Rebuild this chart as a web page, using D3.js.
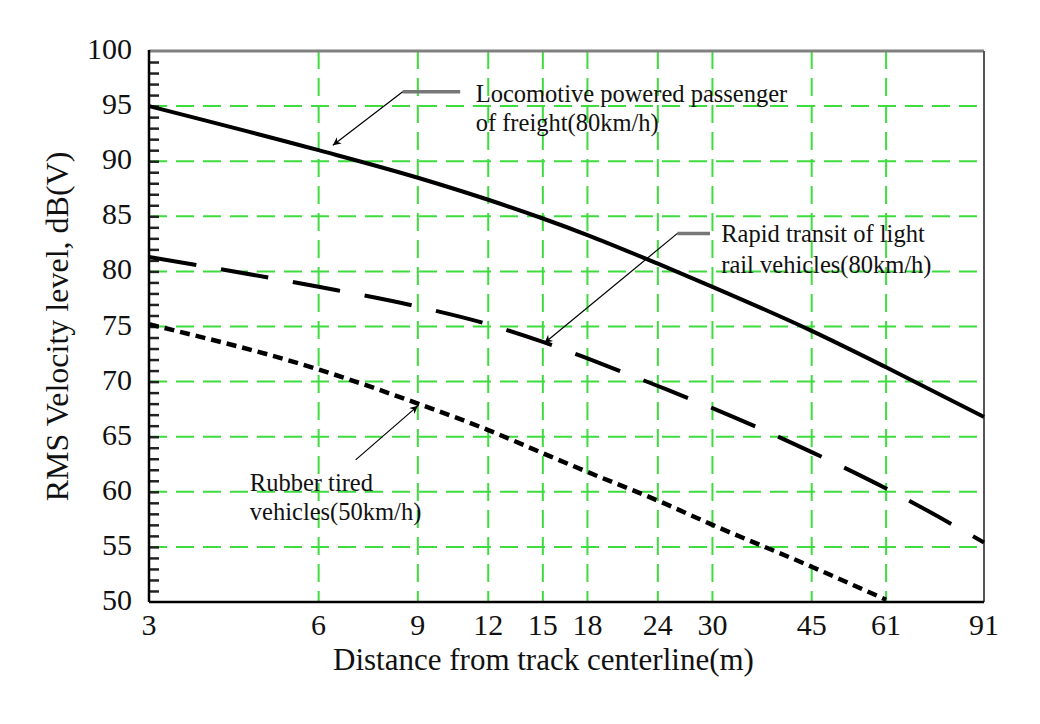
<!DOCTYPE html>
<html>
<head>
<meta charset="utf-8">
<script src="https://cdn.jsdelivr.net/npm/d3@7"></script>
<style>
  body { margin: 0; background: #fff; }
  text { font-family: "Liberation Serif", "Times New Roman", serif; fill: #111; }
</style>
</head>
<body>
<div id="chart"></div>
<script>
// distances (m)
var distance = [3, 6, 9, 12, 15, 18, 24, 30, 45, 61, 91];
var xTickLabels = ["3", "6", "9", "12", "15", "18", "24", "30", "45", "61", "91"];
var yTicks = [50, 55, 60, 65, 70, 75, 80, 85, 90, 95, 100];

// RMS velocity level, dB(V)
var locomotive = [95, 91, 88.5, 86.5, 84.8, 83.3, 80.7, 78.6, 74.6, 71.3, 66.8];
var rapidTransit = [81.3, 78.6, 76.8, 75.2, 73.6, 72.1, 69.6, 67.6, 63.6, 60.3, 55.4];
var rubberTired = [75.2, 71.1, 68.0, 65.6, 63.5, 61.8, 59.2, 57.0, 53.2, 50.2];

var margin = {top: 51, right: 56, bottom: 122, left: 149},
    width = 1040 - margin.left - margin.right,
    height = 724 - margin.top - margin.bottom;

var svg = d3.select("#chart")
  .append("svg")
    .attr("width", 1040)
    .attr("height", 724)
  .append("g")
    .attr("transform", "translate(" + margin.left + "," + margin.top + ")");

var x = d3.scaleLog().domain([3, 91]).range([0, width]);
var y = d3.scaleLinear().domain([50, 100]).range([height, 0]);

var green = "#3fdc3f";

// horizontal grid
svg.append("g")
  .selectAll("line")
  .data(yTicks.filter(function(d) { return d > 50 && d < 100; }))
  .enter().append("line")
    .attr("x1", 0).attr("x2", width)
    .attr("y1", function(d) { return y(d); })
    .attr("y2", function(d) { return y(d); })
    .attr("stroke", green).attr("stroke-width", 2)
    .attr("stroke-dasharray", "18,9");

// vertical grid
svg.append("g")
  .selectAll("line")
  .data(distance.filter(function(d) { return d > 3 && d < 91; }))
  .enter().append("line")
    .attr("x1", function(d) { return x(d); })
    .attr("x2", function(d) { return x(d); })
    .attr("y1", 0).attr("y2", height)
    .attr("stroke", green).attr("stroke-width", 2)
    .attr("stroke-dasharray", "18,9");

// frame: top grey, right dark grey
svg.append("line").attr("x1", 0).attr("x2", width).attr("y1", 0).attr("y2", 0)
  .attr("stroke", "#808080").attr("stroke-width", 3);
svg.append("line").attr("x1", width).attr("x2", width).attr("y1", 0).attr("y2", height)
  .attr("stroke", "#555").attr("stroke-width", 2);

// y axis with inner minor ticks every 1 dB
var yAxis = svg.append("g")
  .call(d3.axisLeft(y).tickValues(d3.range(51, 100)).tickSize(-10).tickFormat(""));
yAxis.select(".domain").remove();
yAxis.selectAll(".tick line").attr("stroke", "#222").attr("stroke-width", 2.5);

svg.append("g").selectAll("text")
  .data(yTicks)
  .enter().append("text")
    .attr("x", -17)
    .attr("y", function(d) { return y(d) + 8; })
    .attr("text-anchor", "end")
    .style("font-size", "30px")
    .text(function(d) { return d; });

svg.append("g").selectAll("text")
  .data(distance)
  .enter().append("text")
    .attr("x", function(d) { return x(d); })
    .attr("y", height + 33)
    .attr("text-anchor", "middle")
    .style("font-size", "30px")
    .text(function(d, i) { return xTickLabels[i]; });

svg.append("line").attr("x1", 0).attr("x2", 0).attr("y1", -1).attr("y2", height)
  .attr("stroke", "#000").attr("stroke-width", 2.5);
svg.append("line").attr("x1", 0).attr("x2", width).attr("y1", height).attr("y2", height)
  .attr("stroke", "#000").attr("stroke-width", 2.5);

// axis titles
svg.append("text")
  .attr("x", x(Math.sqrt(3 * 91)) - 23)
  .attr("y", height + 68)
  .attr("text-anchor", "middle")
  .style("font-size", "31px")
  .text("Distance from track centerline(m)");

svg.append("text")
  .attr("transform", "translate(-81," + (height / 2) + ") rotate(-90)")
  .attr("text-anchor", "middle")
  .style("font-size", "32px")
  .text("RMS Velocity level, dB(V)");

// curves
var line = d3.line()
  .x(function(d) { return x(d[0]); })
  .y(function(d) { return y(d[1]); })
  .curve(d3.curveMonotoneX);

function pairs(vals) {
  return vals.map(function(v, i) { return [distance[i], v]; });
}

svg.append("path").datum(pairs(locomotive))
  .attr("fill", "none").attr("stroke", "#000").attr("stroke-width", 4)
  .attr("d", line);
svg.append("path").datum(pairs(rapidTransit))
  .attr("fill", "none").attr("stroke", "#000").attr("stroke-width", 4)
  .attr("stroke-dasharray", "48,25")
  .attr("d", line);
svg.append("path").datum(pairs(rubberTired))
  .attr("fill", "none").attr("stroke", "#000").attr("stroke-width", 4.5)
  .attr("stroke-dasharray", "10,6")
  .attr("d", line);

// annotations
svg.append("defs").append("marker")
  .attr("id", "arrow")
  .attr("viewBox", "0 0 10 10")
  .attr("refX", 10).attr("refY", 5)
  .attr("markerWidth", 10).attr("markerHeight", 8)
  .attr("markerUnits", "userSpaceOnUse")
  .attr("orient", "auto")
  .append("path").attr("d", "M0,0L10,5L0,10L3,5Z").attr("fill", "#000");

var notes = [
  {stub: [8.46, 10.7], elbow: [8.46, 96.3], tip: [6.36, 91.45], tx: 11.4,
   lines: [[95.4, "Locomotive powered passenger"], [92.7, "of freight(80km/h)"]]},
  {stub: [26.0, 29.7], elbow: [26.0, 83.45], tip: [15.1, 73.5], tx: 31.1,
   lines: [[82.7, "Rapid transit of light"], [79.9, "rail vehicles(80km/h)"]]},
  {stub: null, elbow: [6.98, 62.9], tip: [9.0, 67.8], tx: 4.53,
   lines: [[60.1, "Rubber tired"], [57.4, "vehicles(50km/h)"]]}
];

notes.forEach(function(n) {
  if (n.stub) {
    svg.append("line")
      .attr("x1", x(n.stub[0])).attr("x2", x(n.stub[1]))
      .attr("y1", y(n.elbow[1])).attr("y2", y(n.elbow[1]))
      .attr("stroke", "#777").attr("stroke-width", 3.5);
  }
  svg.append("line")
    .attr("x1", x(n.elbow[0])).attr("y1", y(n.elbow[1]))
    .attr("x2", x(n.tip[0])).attr("y2", y(n.tip[1]))
    .attr("stroke", "#000").attr("stroke-width", 1.2)
    .attr("marker-end", "url(#arrow)");
  n.lines.forEach(function(l) {
    svg.append("text")
      .attr("x", x(n.tx))
      .attr("y", y(l[0]))
      .style("font-size", "24.5px")
      .text(l[1]);
  });
});
</script>
</body>
</html>
